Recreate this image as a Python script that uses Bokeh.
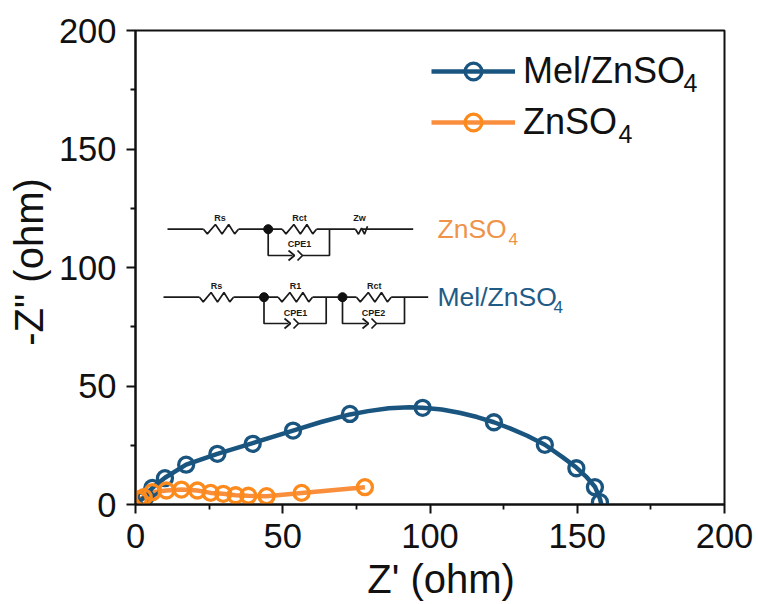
from bokeh.plotting import figure
from bokeh.embed import file_html
from bokeh.resources import INLINE
from bokeh.core.properties import value
from bokeh.models import FixedTicker, Legend, LegendItem, Range1d

FONT = "Liberation Sans"
BLUE = "#1a5580"
ORANGE_M = "#fd8a1c"
ORANGE_L = "#f98f3c"

# data
mel_x = [1.7, 3.4, 5.7, 10.0, 17.2, 27.8, 39.8, 53.5, 72.8, 97.5, 121.7, 139.0, 149.7, 156.0, 157.7]
mel_y = [1.7, 3.1, 7.0, 11.1, 16.8, 21.4, 25.6, 31.2, 38.2, 40.8, 34.7, 25.2, 15.3, 7.3, 1.0]
fit_x = [1.7, 3.4, 5.7, 10.0, 17.2, 27.8, 39.8, 53.5, 63.0, 72.8, 79.0, 86.0, 93.0, 97.5, 104.0, 110.0, 116.0, 121.7, 127.0, 133.0, 139.0, 145.0, 149.7, 153.0, 156.0, 157.7, 158.2]
fit_y = [1.7, 3.4, 7.0, 11.3, 16.8, 21.4, 25.9, 31.2, 34.8, 38.0, 39.4, 40.6, 41.0, 40.8, 40.1, 38.7, 36.9, 34.7, 32.2, 29.0, 25.2, 20.0, 15.6, 11.8, 7.5, 2.5, 0.0]
zn_x = [1.1, 2.8, 5.7, 10.5, 15.6, 21.0, 25.5, 29.8, 34.0, 38.3, 44.5, 56.4, 77.9]
zn_y = [2.1, 3.1, 5.2, 5.9, 6.3, 5.9, 4.9, 4.5, 3.9, 3.7, 3.5, 4.9, 7.3]
x_ticks = [0, 50, 100, 150, 200]
x_minor = [25, 75, 125, 175]
y_ticks = [0, 50, 100, 150, 200]
y_minor = [25, 75, 125, 175]
series_names = ["Mel/ZnSO", "ZnSO"]
x_title = "\u00a0\u00a0Z' (ohm)"
y_title = '\u00a0-Z" (ohm)'

L, R, T, B = 135.0, 724.0, 30.0, 504.0
def dx(px):
    return (px - L) / (R - L) * 200
def dy(py):
    return (B - py) / (B - T) * 200

p = figure(width=758, height=604, output_backend="svg", toolbar_location=None,
           x_range=Range1d(0, 200), y_range=Range1d(0, 200),
           min_border_left=135, min_border_right=34, min_border_top=30, min_border_bottom=100,
           background_fill_color="white", border_fill_color="white")
p.grid.visible = False
p.outline_line_color = "#111111"
p.outline_line_width = 2

for ax, t, m, lab in ((p.xaxis[0], x_ticks, x_minor, x_title), (p.yaxis[0], y_ticks, y_minor, y_title)):
    ax.ticker = FixedTicker(ticks=t, minor_ticks=m)
    ax.axis_label = lab
    ax.axis_label_text_font = FONT
    ax.axis_label_text_font_style = "normal"
    ax.axis_label_text_font_size = "40px"
    ax.axis_label_text_color = "#111111"
    ax.major_label_text_font = FONT
    ax.major_label_text_font_size = "34.5px"
    ax.major_label_text_color = "#111111"
    ax.axis_line_width = 2
    ax.axis_line_color = "#111111"
    ax.major_tick_line_width = 2
    ax.minor_tick_line_width = 1.8
    ax.major_tick_line_color = "#111111"
    ax.minor_tick_line_color = "#111111"
    ax.major_tick_out = 9
    ax.major_tick_in = 0
    ax.minor_tick_out = 5
    ax.minor_tick_in = 0
p.xaxis[0].axis_label_standoff = 6
p.yaxis[0].axis_label_standoff = 5
p.xaxis[0].major_label_standoff = 10
p.yaxis[0].major_label_standoff = 10
p.yaxis[0].major_label_orientation = "horizontal"

# series
zn_l = p.line(zn_x, zn_y, line_color=ORANGE_L, line_width=4.5)
mel_l = p.line(fit_x, fit_y, line_color=BLUE, line_width=4.5)
mel_s = p.scatter(mel_x, mel_y, size=15, marker="circle", fill_alpha=0, line_color=BLUE, line_width=3.3)
zn_s = p.scatter(zn_x, zn_y, size=15, marker="circle", fill_alpha=0, line_color=ORANGE_M, line_width=3.3)

# legend
leg = Legend(items=[LegendItem(label=series_names[0], renderers=[mel_l, mel_s]),
                    LegendItem(label=series_names[1], renderers=[zn_l, zn_s])],
             location=(296, 361), orientation="vertical",
             background_fill_alpha=0, border_line_alpha=0,
             label_text_font=FONT, label_text_font_size="36px", label_text_color="#111111",
             glyph_width=84, glyph_height=42, label_standoff=8, spacing=9, margin=0, padding=0,
             label_height=42)
p.add_layout(leg)

# equivalent circuits, drawn in page pixels and converted to the chart's scales
CIRC = "#1a1a1a"
segs = []
def wire(*pts):
    segs.append(pts)
def resistor(x0, x1, y):
    w = (x1 - x0)
    a = 4.7
    wire((x0, y), (x0 + w*.11, y + a), (x0 + w*.34, y - a), (x0 + w*.53, y + a),
         (x0 + w*.72, y - a), (x0 + w*.89, y + a), (x1, y))
def chevrons(x0, y):
    wire((x0 - 4, y - 5), (x0 + 2, y), (x0 - 4, y + 5))
    wire((x0 + 5, y - 5), (x0 + 10, y), (x0 + 5, y + 5))

# upper circuit (ZnSO4)
y1 = 228.7
wire((167, y1), (203, y1)); resistor(203, 238, y1); wire((238, y1), (281.7, y1))
resistor(281.7, 316, y1); wire((316, y1), (355, y1))
wire((355, y1), (358, y1 + 5), (361, y1 - 1), (364, y1 + 5), (367, y1 - 3)); wire((361, y1), (412.7, y1))
wire((267.7, y1), (267.7, 255), (292, 255)); chevrons(292, 255); wire((302, 255), (329, 255), (329, y1))

# lower circuit (Mel/ZnSO4)
y2 = 296.7
wire((163, y2), (199, y2)); resistor(199, 233, y2); wire((233, y2), (277.7, y2))
resistor(277.7, 312, y2); wire((312, y2), (356, y2)); resistor(356, 390.7, y2); wire((390.7, y2), (427.7, y2))
wire((263.5, y2), (263.5, 323), (288, 323)); chevrons(288, 323); wire((298, 323), (325.7, 323), (325.7, y2))
wire((342, y2), (342, 323), (366, 323)); chevrons(366, 323); wire((376, 323), (404, 323), (404, y2))

p.multi_line([[dx(a) for a, _ in s] for s in segs], [[dy(b) for _, b in s] for s in segs],
             line_color=CIRC, line_width=1.7)
p.scatter([dx(a) for a in (267.7, 263.5, 342)], [dy(b) for b in (y1, y2, y2)], size=9,
          marker="circle", fill_color="#111111", line_color="#111111")

def txt(x, y, s, size, color=CIRC, align="center", style="normal"):
    p.text([dx(x)], [dy(y - 0.37 * size)], text=[s], text_font=value(FONT), text_font_size=f"{size}px",
           text_color=color, text_align=align, text_baseline="alphabetic", text_font_style=style)

for x, y, s in [(219.6, 221, "Rs"), (299, 221, "Rct"), (359, 221, "Zw"), (299, 247, "CPE1"),
                (216, 289, "Rs"), (295, 289, "R1"), (373.7, 289, "Rct"), (295, 316, "CPE1"), (373, 316, "CPE2")]:
    txt(x, y, s, 9, style="bold")

txt(437, 238.5, "ZnSO", 26.5, "#f0934a", "left")
txt(508, 245, "4", 17, "#f0934a", "left")
txt(437, 306, "Mel/ZnSO", 26.5, "#1f5c85", "left")
txt(553, 312.5, "4", 17, "#1f5c85", "left")
# legend subscripts
txt(683, 91.7, "4", 25, "#111111", "left")
txt(618, 142.7, "4", 25, "#111111", "left")

open("out.html", "w").write(file_html(p, INLINE))
